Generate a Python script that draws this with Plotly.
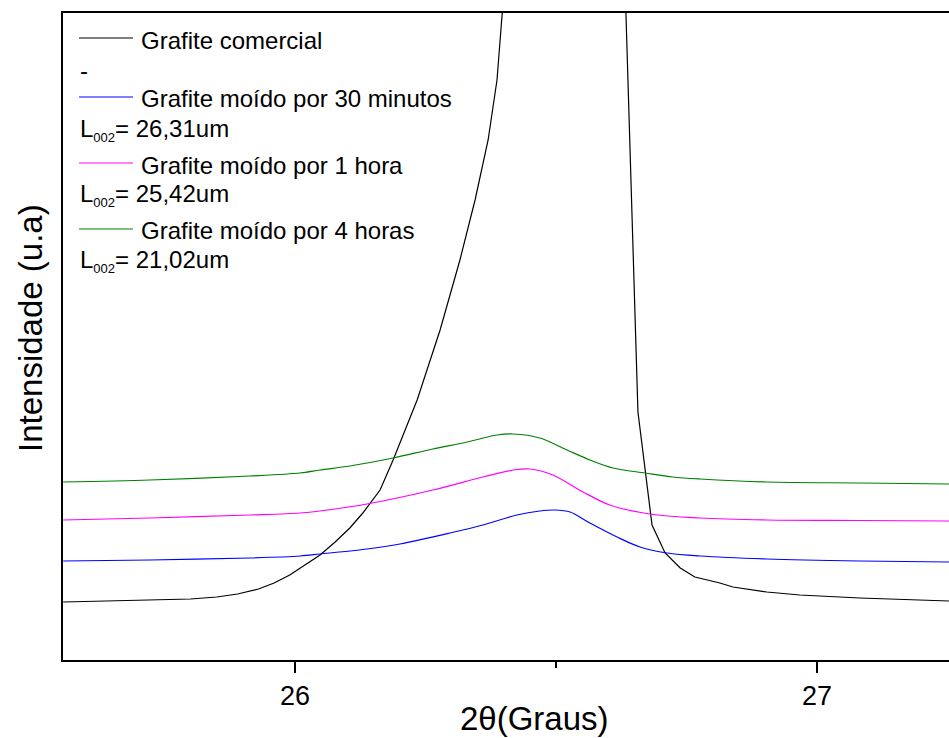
import plotly.graph_objects as go

# 2-theta (degrees) and intensity (a.u.) around the graphite (002) reflection
x_comercial = [25.556, 25.722, 25.800, 25.850, 25.890, 25.930, 25.960, 25.990,
               26.020, 26.048, 26.077, 26.105, 26.130, 26.163, 26.188, 26.201,
               26.234, 26.278, 26.316, 26.345, 26.370, 26.387, 26.397, 26.410,
               26.440, 26.470, 26.500, 26.530, 26.560, 26.590, 26.610, 26.657,
               26.684, 26.709, 26.738, 26.766, 26.814, 26.839, 26.904, 26.967,
               27.082, 27.253]
y_comercial = [58, 60, 61, 63, 66, 71, 77, 85,
               95, 105, 118, 132, 147, 170, 200, 217,
               260, 330, 400, 460, 520, 580, 647, 820,
               1250, 1900, 2500, 2600, 2200, 1500, 1063, 248,
               135, 107, 92, 83, 77, 73, 68, 65,
               62, 59]

x_30min = [25.556, 25.722, 25.914, 26.010, 26.048, 26.138, 26.201, 26.297,
           26.360, 26.425, 26.469, 26.498, 26.527, 26.565, 26.617, 26.661,
           26.713, 26.776, 26.904, 27.082, 27.253]
y_30min = [99, 100, 102, 104, 106, 111, 116, 127,
           135, 145, 149, 150, 148, 137, 123, 113,
           107, 104, 101, 99, 98]

x_1h = [25.556, 25.722, 25.914, 26.010, 26.048, 26.138, 26.264, 26.360,
        26.418, 26.450, 26.494, 26.552, 26.603, 26.680, 26.776, 26.904,
        27.082, 27.253]
y_1h = [140, 142, 145, 147, 149, 156, 170, 183,
        190, 191, 185, 168, 155, 146, 142, 140,
        139.5, 139]

x_4h = [25.556, 25.722, 25.914, 26.010, 26.048, 26.105, 26.188, 26.264,
        26.330, 26.387, 26.418, 26.469, 26.521, 26.565, 26.609, 26.671,
        26.724, 26.776, 26.904, 27.082, 27.253]
y_4h = [178, 180, 184, 187, 190, 194, 202, 211,
        218, 225, 226, 222, 210, 200, 192, 187,
        183, 181, 178, 177, 176]

series_names = ["Grafite comercial", "Grafite moído por 30 minutos",
                "Grafite moído por 1 hora", "Grafite moído por 4 horas"]
series_colors = ["#000000", "#0000FF", "#FF00FF", "#008000"]
crystallite_sizes = ["26,31um", "25,42um", "21,02um"]
xticks = [26, 27]

FONT = "Arial, 'Liberation Sans', sans-serif"
W, H = 949, 738
ML, MR, MT, MB = 63, 0, 13, 78
PW, PH = W - ML - MR, H - MT - MB

fig = go.Figure()
for k, (xs, ys, name, col) in enumerate(zip([x_comercial, x_30min, x_1h, x_4h],
                                            [y_comercial, y_30min, y_1h, y_4h],
                                            series_names, series_colors)):
    shape = "linear" if k == 0 else "spline"
    fig.add_trace(go.Scatter(x=xs, y=ys, mode="lines", name=name,
                             line=dict(color=col, width=1.2, shape=shape,
                                       smoothing=0.9 if k else None),
                             showlegend=False))


def px_x(p):
    return (p - ML) / PW


def px_y(p):
    return (H - MB - p) / PH


LEG = 24
annotations = []
shapes = []
# hand-built key: line sample + label, with the L002 notes beneath
key_rows = [(38, 0), (97, 1), (163, 2), (229, 3)]
for py, i in key_rows:
    shapes.append(dict(type="line", xref="paper", yref="paper",
                       x0=px_x(79), x1=px_x(133), y0=px_y(py), y1=px_y(py),
                       line=dict(color=series_colors[i], width=1.2)))
    annotations.append(dict(xref="paper", yref="paper", x=px_x(139), y=px_y(py + 2),
                            text=series_names[i], showarrow=False,
                            xanchor="left", yanchor="middle",
                            font=dict(family=FONT, size=LEG, color="black")))
annotations.append(dict(xref="paper", yref="paper", x=px_x(78), y=px_y(70),
                        text="-", showarrow=False, xanchor="left", yanchor="middle",
                        font=dict(family=FONT, size=LEG, color="black")))
for py, size in zip([130, 195, 261], crystallite_sizes):
    txt = "L<sub><span style='font-size:13px'>002</span></sub>= " + size
    annotations.append(dict(xref="paper", yref="paper", x=px_x(78), y=px_y(py),
                            text=txt, showarrow=False, xanchor="left", yanchor="middle",
                            font=dict(family=FONT, size=LEG, color="black")))

# axis titles
annotations.append(dict(xref="paper", yref="paper", x=px_x(534), y=px_y(718),
                        text="2θ(Graus)", showarrow=False,
                        xanchor="center", yanchor="middle",
                        font=dict(family=FONT, size=33, color="black")))
annotations.append(dict(xref="paper", yref="paper", x=px_x(30), y=px_y(328),
                        text="Intensidade (u.a)", showarrow=False, textangle=-90,
                        xanchor="center", yanchor="middle",
                        font=dict(family=FONT, size=33, color="black")))

fig.update_layout(
    width=W, height=H,
    margin=dict(l=ML, r=MR, t=MT, b=MB, autoexpand=False),
    paper_bgcolor="white", plot_bgcolor="white",
    font=dict(family=FONT, color="black"),
    annotations=annotations, shapes=shapes,
    xaxis=dict(range=[25.5556, 27.2529], showgrid=False, zeroline=False,
               showline=True, linecolor="black", linewidth=2, mirror=True,
               ticks="outside", ticklen=11, tickwidth=2, tickcolor="black",
               tickvals=xticks, ticktext=[str(v) for v in xticks],
               tickfont=dict(family=FONT, size=27, color="black"),
               minor=dict(tickvals=[26.5], ticks="outside", ticklen=6,
                          tickwidth=2, tickcolor="black"),
               automargin=False),
    yaxis=dict(range=[0, 647], showgrid=False, zeroline=False,
               showline=True, linecolor="black", linewidth=2, mirror=False,
               ticks="", showticklabels=False, automargin=False),
)

fig.write_html("out.html")
